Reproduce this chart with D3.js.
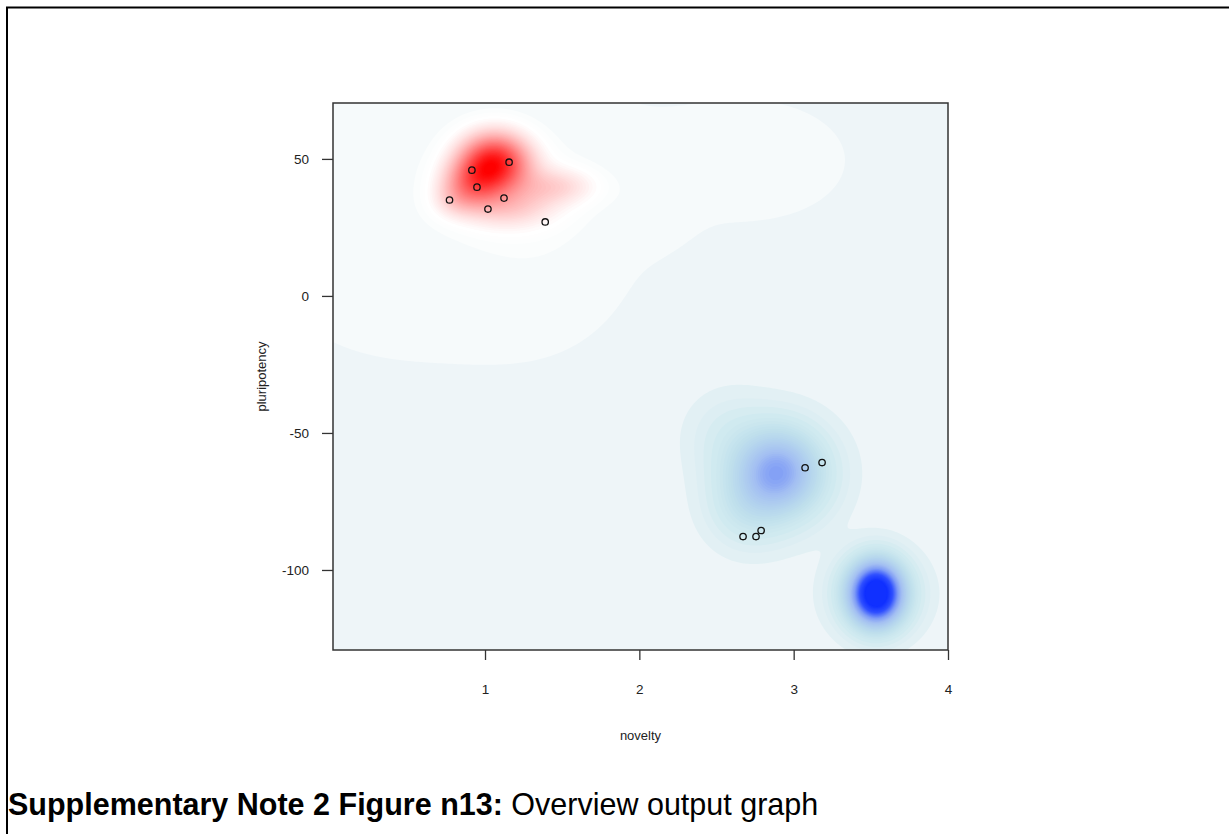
<!DOCTYPE html>
<html>
<head>
<meta charset="utf-8">
<script src="https://cdn.jsdelivr.net/npm/d3@7"></script>
<style>
  body { margin: 0; background: #fff; }
  svg { display: block; font-family: Arial, "Liberation Sans", sans-serif; }
</style>
</head>
<body>
<svg id="chart" width="1229" height="834"></svg>
<script>
'use strict';

// observed cells (novelty, pluripotency)
const pointX = [0.77, 0.915, 0.948, 1.019, 1.123, 1.156, 1.39, 3.074, 3.184, 2.672, 2.756, 2.789];
const pointY = [35.0, 45.9, 39.7, 31.7, 35.7, 48.8, 27.0, -62.7, -60.8, -87.8, -87.8, -85.6];

// density bumps: centre, weight (+ red / - blue), spread
const bumpX  = [1.06, 0.92, 1.47, 1.15, 0.80, 1.15, 3.535, 3.535, 2.90, 2.88, 2.70, 2.58, 0.45, 1.40, 2.717, 2.10];
const bumpY  = [49.0, 41.0, 40.0, 32.0, 35.0, 38.0, -108.6, -108.6, -64.1, -65.0, -78.0, -50.0, 38.0, 30.0, 49.5, 32.0];
const bumpW  = [0.8, 0.38, 0.16, 0.13, 0.1, 0.12, -1.0, -0.2, -0.36, -0.2, -0.09, -0.045, 0.035, 0.035, 0.035, 0.022];
const bumpSX = [0.15, 0.13, 0.17, 0.2, 0.1, 0.23, 0.11, 0.17, 0.17, 0.23, 0.16, 0.18, 0.84, 0.42, 0.49, 0.17];
const bumpSY = [7.0, 6.0, 4.5, 5.0, 4.5, 8.5, 7.4, 9, 9.5, 12.0, 9.0, 10.0, 48, 30, 17, 10];

const xTicks = [1, 2, 3, 4];
const yTicks = [-100, -50, 0, 50];

const svg = d3.select('#chart');
const pLeft = 333, pRight = 948, pTop = 103, pBottom = 650;

const x = d3.scaleLinear().domain([0.015, 4.0]).range([pLeft, pRight]);
const y = d3.scaleLinear().domain([-129.2, 70.4]).range([pBottom, pTop]);

// colour of a density value
const colour = d3.scaleLinear()
  .domain([-1.0, -0.8, -0.6, -0.45, -0.32, -0.2, -0.1, -0.03, -0.012, 0.016, 0.05, 0.085, 1.0])
  .range(['#1030ff', '#3050ff', '#7f9cf6', '#a4c0f2', '#b2d2ee', '#c0e0ec', '#d0eaf0', '#e2f0f4',
          '#eef5f8', '#f6fafb', '#fbfdfd', '#ffffff', '#ff0000'])
  .clamp(true);

function field(px, py) {
  let v = 0;
  for (let k = 0; k < bumpX.length; k++) {
    const dx = (px - bumpX[k]) / bumpSX[k];
    const dy = (py - bumpY[k]) / bumpSY[k];
    v += bumpW[k] * Math.exp(-0.5 * (dx * dx + dy * dy));
  }
  return v;
}

// grid over the plot, 2px cells
const cell = 2;
const nx = Math.ceil((pRight - pLeft) / cell);
const ny = Math.ceil((pBottom - pTop) / cell);
const values = new Float64Array(nx * ny);
for (let j = 0; j < ny; j++) {
  for (let i = 0; i < nx; i++) {
    values[j * nx + i] = field(x.invert(pLeft + (i + 0.5) * cell), y.invert(pTop + (j + 0.5) * cell));
  }
}

const thresholds = d3.range(-1.0, -0.1, 0.02)
  .concat([-0.1, -0.075, -0.05, -0.03, -0.012, 0.016, 0.05, 0.065, 0.075])
  .concat(d3.range(0.085, 1.05, 0.015));

const contours = d3.contours().size([nx, ny]).thresholds(thresholds)(values);

svg.append('defs').append('clipPath').attr('id', 'plotclip')
  .append('rect').attr('x', pLeft).attr('y', pTop).attr('width', pRight - pLeft).attr('height', pBottom - pTop);

const plot = svg.append('g').attr('clip-path', 'url(#plotclip)');
plot.append('rect')
  .attr('x', pLeft).attr('y', pTop).attr('width', pRight - pLeft).attr('height', pBottom - pTop)
  .attr('fill', colour(-1.05));

plot.append('g')
  .attr('transform', `translate(${pLeft},${pTop}) scale(${cell})`)
  .selectAll('path')
  .data(contours)
  .join('path')
  .attr('d', d3.geoPath())
  .attr('fill', d => colour(d.value));

// points
svg.append('g')
  .selectAll('circle')
  .data(pointX.map((v, i) => [v, pointY[i]]))
  .join('circle')
  .attr('cx', d => x(d[0]))
  .attr('cy', d => y(d[1]))
  .attr('r', 3.2)
  .attr('fill', 'none')
  .attr('stroke', '#111')
  .attr('stroke-width', 1.3);

// plot box
svg.append('rect')
  .attr('x', pLeft).attr('y', pTop).attr('width', pRight - pLeft).attr('height', pBottom - pTop)
  .attr('fill', 'none').attr('stroke', '#333').attr('stroke-width', 1.5);

// axes
const xAxis = svg.append('g')
  .attr('transform', `translate(0,${pBottom})`)
  .call(d3.axisBottom(x).tickValues(xTicks).tickSize(10).tickPadding(24).tickFormat(d => String(d)));
const yAxis = svg.append('g')
  .attr('transform', `translate(${pLeft},0)`)
  .call(d3.axisLeft(y).tickValues(yTicks).tickSize(11).tickPadding(13).tickFormat(d => String(d)));

[xAxis, yAxis].forEach(a => {
  a.attr('font-size', 13.5).attr('font-family', 'Arial, "Liberation Sans", sans-serif');
  a.select('.domain').remove();
  a.selectAll('.tick line').attr('stroke', '#333').attr('stroke-width', 1.3);
  a.selectAll('.tick text').attr('fill', '#222');
});

svg.append('text')
  .attr('x', (pLeft + pRight) / 2).attr('y', 740)
  .attr('text-anchor', 'middle')
  .attr('font-size', 13).attr('fill', '#222')
  .text('novelty');

svg.append('text')
  .attr('transform', `translate(266,${(pTop + pBottom) / 2}) rotate(-90)`)
  .attr('text-anchor', 'middle')
  .attr('font-size', 13).attr('fill', '#222')
  .text('pluripotency');

// document frame (top and left edges only)
svg.append('path')
  .attr('d', 'M7,834 V7.5 H1229')
  .attr('fill', 'none').attr('stroke', '#000').attr('stroke-width', 2);

// caption
const cap = svg.append('text')
  .attr('x', 8).attr('y', 815)
  .attr('font-size', 30.5).attr('fill', '#000');
cap.append('tspan').attr('font-weight', 'bold').text('Supplementary Note 2 Figure n13:');
cap.append('tspan').text(' Overview output graph');
</script>
</body>
</html>
